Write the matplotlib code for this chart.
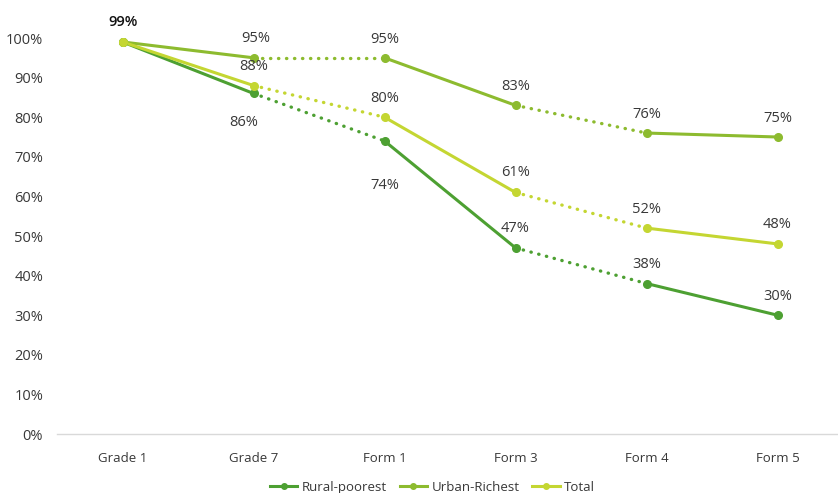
import matplotlib
matplotlib.use("Agg")
import matplotlib.pyplot as plt

plt.rcParams['font.family'] = ['Open Sans', 'DejaVu Sans']

categories = ["Grade 1", "Grade 7", "Form 1", "Form 3", "Form 4", "Form 5"]
rural_poorest = [99, 86, 74, 47, 38, 30]
urban_richest = [99, 95, 95, 83, 76, 75]
total = [99, 88, 80, 61, 52, 48]
y_ticks = [0, 10, 20, 30, 40, 50, 60, 70, 80, 90, 100]

# segment styles between consecutive categories
segment_dotted = [False, True, False, True, False]

series = [
    ("Rural-poorest", rural_poorest, "#4da032",
     [(0, 0), (-10, -29), (0, -45), (0, 19), (0, 19), (0, 19)]),
    ("Urban-Richest", urban_richest, "#8dbb2f",
     [(0, 0), (2, 19), (0, 18), (0, 19), (0, 19), (0, 19)]),
    ("Total", total, "#c4d632",
     [(0, 0), (0, 19), (0, 19), (0, 20), (0, 19), (0, 19)]),
]

fig = plt.figure(figsize=(8.38, 4.93), dpi=100)
ax = fig.add_axes([57 / 838, 1 - 434 / 493, 786 / 838, 396 / 493])

x = list(range(len(categories)))
handles = []
for name, vals, color, offs in series:
    for i in range(len(x) - 1):
        if segment_dotted[i]:
            ax.plot(x[i:i + 2], vals[i:i + 2], color=color, lw=2.4,
                    linestyle=(0, (0.1, 2.3)), dash_capstyle='round', zorder=2)
        else:
            ax.plot(x[i:i + 2], vals[i:i + 2], color=color, lw=2.2,
                    solid_capstyle='round', zorder=2)
    ax.plot(x, vals, linestyle='none', marker='o', ms=5.5, color=color, zorder=3)
    h, = ax.plot([], [], color=color, lw=2.2, marker='o', ms=4)
    handles.append((h, name))
    for i, (v, (dx, dy)) in enumerate(zip(vals, offs)):
        if i == 0:
            continue
        ax.annotate(f"{v}%", (x[i], v), xytext=(dx * 0.72, dy * 0.72),
                    textcoords='offset points', ha='center', va='center',
                    fontsize=10.5, color='#383838', annotation_clip=False)

# shared starting value for all three series
ax.annotate(f"{total[0]}%", (x[0], total[0]), xytext=(1 * 0.72, 20 * 0.72),
            textcoords='offset points', ha='center', va='center',
            fontsize=10.5, color='#111111', fontweight='semibold',
            annotation_clip=False)

ax.set_xlim(-0.5, 5.5)
ax.set_ylim(0, 100)
ax.set_yticks(y_ticks)
ax.set_yticklabels([f"{t}%" for t in y_ticks])
ax.set_xticks(x)
ax.set_xticklabels(categories)
ax.tick_params(axis='both', length=0, colors='#383838', labelsize=10.5)
ax.tick_params(axis='x', labelsize=9.5, pad=13)
ax.tick_params(axis='y', pad=10)
for s in ['top', 'right', 'left']:
    ax.spines[s].set_visible(False)
ax.spines['bottom'].set_color('#d9d9d9')
ax.spines['bottom'].set_linewidth(1.0)

leg = fig.legend([h for h, _ in handles], [n for _, n in handles],
                 loc='center', bbox_to_anchor=(0.516, 0.012), ncol=3,
                 frameon=False, fontsize=9.5, handlelength=2.1,
                 columnspacing=1.0, handletextpad=0.3)
for t in leg.get_texts():
    t.set_color('#383838')

fig.savefig("out.png", dpi=100)
